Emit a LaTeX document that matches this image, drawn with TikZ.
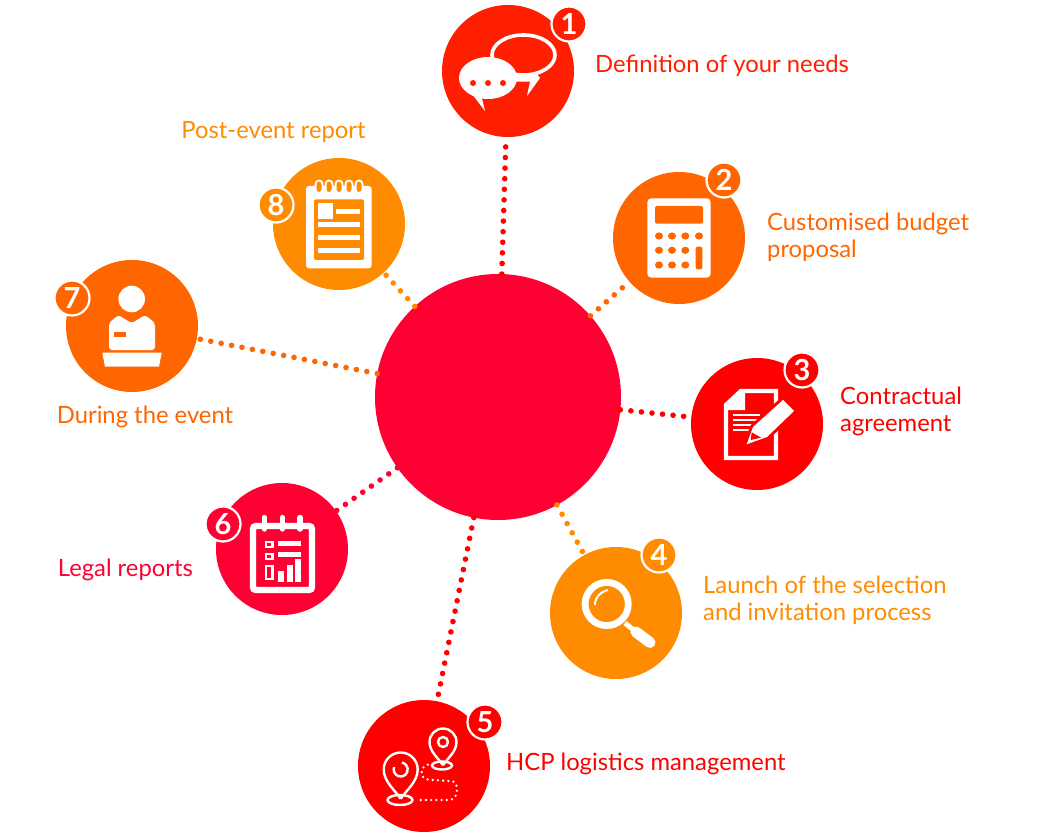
\documentclass[tikz,border=0pt]{standalone}
\usepackage{fontspec}
\setmainfont{Lato}
\usetikzlibrary{positioning}

\definecolor{cscarlet}{HTML}{FF1E00}
\definecolor{cdeep}{HTML}{FF6600}
\definecolor{cred}{HTML}{FF0000}
\definecolor{camber}{HTML}{FF8C00}
\definecolor{crose}{HTML}{FF0033}

\tikzset{
  stepnode/.style={circle, fill=#1, minimum size=132pt, inner sep=0pt, outer sep=0pt},
  numbadge/.style={circle, fill=#1, draw=white, line width=2.2pt, minimum size=35pt, inner sep=0pt,
    text=white, font=\fontsize{29}{29}\selectfont\bfseries},
  steplabel/.style={text=#1, align=left, inner sep=0pt, font=\fontsize{23.8}{27}\selectfont},
  dotline/.style={draw=#1, line width=5.6pt, line cap=round, dash pattern=on 0pt off 10.6pt},
  mappin/.pic={
    \draw[white, line width=2.4pt, line join=round] (0,1.72) .. controls (-0.35,1.2) and (-1,0.7) .. (-1,0)
      .. controls (-1,-0.55) and (-0.55,-1) .. (0,-1) .. controls (0.55,-1) and (1,-0.55) .. (1,0)
      .. controls (1,0.7) and (0.35,1.2) .. (0,1.72);
  }
}

\begin{document}
\begin{tikzpicture}[x=1pt,y=-1pt]
  \useasboundingbox (0,0) rectangle (1045,837);

  \node[circle, fill=crose, minimum size=246pt, inner sep=0pt, outer sep=0pt] (hub) at (498,397) {};

  \node[stepnode=cscarlet] (need) at (508,71) {};
  \node[stepnode=cdeep] (budget) at (679,238) {};
  \node[stepnode=cred] (contract) at (757,424) {};
  \node[stepnode=camber] (launch) at (616,613) {};
  \node[stepnode=cred] (logistics) at (424,766) {};
  \node[stepnode=crose] (legal) at (282,549) {};
  \node[stepnode=cdeep] (during) at (132,326) {};
  \node[stepnode=camber] (report) at (339,224) {};

  \draw[dotline=cred] (hub) -- (need);
  \draw[dotline=cdeep] (hub) -- (budget);
  \draw[dotline=cred] (hub) -- (contract);
  \draw[dotline=camber] (hub) -- (launch);
  \draw[dotline=cred] (hub) -- (logistics);
  \draw[dotline=crose] (hub) -- (legal);
  \draw[dotline=cdeep] (hub) -- (during);
  \draw[dotline=camber] (hub) -- (report);

  \node[numbadge=cscarlet] (need_n) at (569,24) {1};
  \node[numbadge=cdeep] (budget_n) at (724,180) {2};
  \node[numbadge=cred] (contract_n) at (802,370) {3};
  \node[numbadge=camber] (launch_n) at (659,555) {4};
  \node[numbadge=cred] (logistics_n) at (485,722) {5};
  \node[numbadge=crose] (legal_n) at (223,524) {6};
  \node[numbadge=cdeep] (during_n) at (72,298) {7};
  \node[numbadge=camber] (report_n) at (276,205) {8};

  \node[steplabel=cscarlet, yshift=5.5pt, right=21pt of need] (need_t) {Definition of your needs};
  \node[steplabel=cdeep, right=22pt of budget, yshift=0.5pt] (budget_t) {Customised budget\\proposal};
  \node[steplabel=cred, right=17pt of contract, yshift=12.5pt] (contract_t) {Contractual\\agreement};
  \node[steplabel=camber, right=21pt of launch, yshift=13pt] (launch_t) {Launch of the selection\\and invitation process};
  \node[steplabel=cred, right=16pt of logistics, yshift=2pt] (logistics_t) {HCP logistics management};
  \node[steplabel=crose, left=23pt of legal, yshift=-21pt] (legal_t) {Legal reports};
  \node[steplabel=cdeep, below=14pt of during, xshift=13pt] (during_t) {During the event};
  \node[steplabel=camber, above=15pt of report, xshift=-65.5pt] (report_t) {Post-event report};

  % chat
  \draw[white, line width=3.6pt] (523.5,55) ellipse (31.5 and 20);
  \fill[white] (510,74) -- (536,73) -- (540,78) -- (527,96) -- (530,81.7) -- (510,81.7) -- cycle;
  \fill[white] (488,78) ellipse (29 and 21);
  \fill[white] (472,94) -- (485,111) -- (481,94) -- cycle;
  \foreach \px in {473,488,503} \fill[cscarlet] (\px,83) circle (3);

  % calculator
  \fill[white, rounded corners=4pt] (647.3,198.3) rectangle (710.7,277.7);
  \fill[cdeep, rounded corners=2pt] (655,206) rectangle (703,223.7);
  \foreach \px in {659,672,685.3} \foreach \py in {236,250.3,265}
    \fill[cdeep] (\px,\py) ellipse (4 and 3.6);
  \fill[cdeep] (699,236) ellipse (4 and 3.6);
  \fill[cdeep, rounded corners=2pt] (695.7,246.7) rectangle (702.3,269.3);

  % contract
  \draw[white, line width=4.4pt] (726,405) -- (741,391) -- (776,391) -- (776,458) -- (726,458) -- cycle;
  \fill[white] (745,393) -- (745,410) -- (728,410) -- (728,405) -- (741,393) -- cycle;
  \foreach \py/\pw in {415/27,420/25,425/23,430/19} \draw[white, line width=2pt] (733,\py) -- ++(\pw,0);
  \draw[cred, line width=6pt, line join=round] (753,427) -- (783,400) -- (794,411) -- (767,437) -- (746.7,444.3) -- cycle;
  \fill[white] (753,427) -- (783,400) -- (794,411) -- (767,437) -- (746.7,444.3) -- cycle;
  \fill[cred] (751.7,432.3) -- (761,437.7) -- (750.7,440) -- cycle;

  % magnifier
  \draw[white, line width=6.8pt] (606.7,604) circle (21.6);
  \draw[white, line width=2pt] (595,605) .. controls (595,597) and (600,592) .. (608,590);
  \draw[white, line width=5pt] (625,623) -- (636,632);
  \draw[white, line width=11pt, line cap=round] (636,632) -- (650,642.5);

  % pins
  \pic[shift={(400.7,769.5)}, scale=17] {mappin};
  \pic[shift={(443,742)}, scale=13.5] {mappin};
  \draw[white, line width=2.4pt] (400,800) ellipse (12.5 and 5);
  \draw[white, line width=2.4pt] (442,765.5) ellipse (10 and 4);
  \draw[white, line width=2.4pt] (400.7,769.5) ++(200:7) arc[start angle=200, end angle=-80, radius=7];
  \draw[white, line width=2.4pt] (443,742) circle (5);
  \draw[white, line width=2.6pt, line cap=round, dash pattern=on 0pt off 5.2pt]
    (433,764) .. controls (425,764) and (421,768) .. (421.7,773) .. controls (422,779) and (427,780) .. (433,780)
    -- (450,781) .. controls (456,781) and (457,785) .. (457,790) .. controls (457,796) and (454,800) .. (448,800) -- (417,800);

  % notebook
  \draw[white, line width=6.4pt, rounded corners=3pt] (253,526) rectangle (312,590);
  \foreach \px in {264.3,282.3,300}
    \draw[white, line width=5.4pt, line cap=round] (\px,517.5) -- (\px,529);
  \draw[white, line width=2.4pt] (266,542) rectangle (272.5,547);
  \draw[white, line width=2.4pt] (266,553.8) rectangle (272.5,559);
  \draw[white, line width=2.4pt] (266,566.2) rectangle (272.5,578.8);
  \fill[white] (278.3,541) rectangle (301,546);
  \fill[white] (278.3,551.7) rectangle (301,556.7);
  \fill[white] (278.3,570.7) rectangle (284,581.7);
  \fill[white] (287.3,565) rectangle (293.3,581.7);
  \fill[white] (295,559.3) rectangle (301,581.7);

  % person
  \fill[white] (131.7,299) circle (13.3);
  \fill[white, rounded corners=3pt] (109,350) -- (109,323) -- (118.3,315) -- (131.7,323.3) -- (145,315) -- (155,323) -- (155,350) -- cycle;
  \fill[cdeep] (114.3,331.7) rectangle (125.7,337.3);
  \fill[white] (102.3,352.7) -- (161.7,352.7) -- (159,366.7) -- (105,366.7) -- cycle;

  % notepad
  \fill[white, rounded corners=3pt] (306,186) rectangle (371.7,268.3);
  \fill[camber, rounded corners=2pt] (314,199.3) rectangle (364,260);
  \foreach \px in {319,329,339,349,359}
    \draw[white, fill=camber, line width=1.8pt, rounded corners=3.3pt] (\px-3.4,180.5) rectangle (\px+3.4,193);
  \fill[white] (318.3,203.3) rectangle (333,219);
  \fill[white] (336,209.3) rectangle (360,214.3);
  \foreach \py in {222.3,235.3,248.3} \fill[white] (318.3,\py) rectangle (360,\py+5);
\end{tikzpicture}
\end{document}
